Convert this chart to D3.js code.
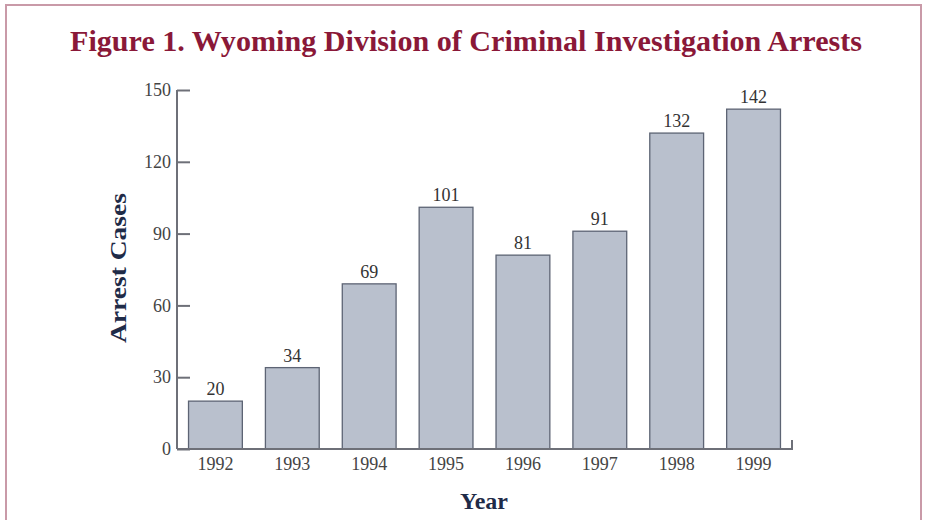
<!DOCTYPE html>
<html><head><meta charset="utf-8">
<script src="https://cdn.jsdelivr.net/npm/d3@7"></script>
<style>body{margin:0;background:#fff}svg{display:block}</style>
</head><body>
<svg id="c" width="927" height="520"></svg>
<script>
const years = ["1992","1993","1994","1995","1996","1997","1998","1999"];
const arrests = [20, 34, 69, 101, 81, 91, 132, 142];
const yTicks = [0, 30, 60, 90, 120, 150];
const titleText = "Figure 1. Wyoming Division of Criminal Investigation Arrests";

const svg = d3.select("#c");
const serif = "'Liberation Serif','DejaVu Serif',serif";

svg.append("rect").attr("x",6).attr("y",5).attr("width",915).attr("height",530)
  .attr("fill","none").attr("stroke","#c99aa8").attr("stroke-width",2);

svg.append("text").attr("x",466).attr("y",51).attr("text-anchor","middle")
  .attr("font-family",serif).attr("font-weight","bold").attr("font-size",29)
  .attr("fill","#8a1838").attr("textLength",792).attr("lengthAdjust","spacingAndGlyphs")
  .text(titleText);

const x = d3.scaleBand().domain(years).range([177, 792]).paddingInner(0.3).paddingOuter(0.15);
const y = d3.scaleLinear().domain([0,150]).range([449, 90]);
const axisColor = "#6e7078";

svg.selectAll("rect.bar").data(years).join("rect").attr("class","bar")
  .attr("x", d => x(d)).attr("y", (d,i) => y(arrests[i]))
  .attr("width", x.bandwidth()).attr("height", (d,i) => y(0) - y(arrests[i]))
  .attr("fill","#b9c0cd").attr("stroke","#5d6474").attr("stroke-width",1.3);

svg.selectAll("text.val").data(years).join("text").attr("class","val")
  .attr("x", d => x(d) + x.bandwidth()/2).attr("y", (d,i) => y(arrests[i]) - 6)
  .attr("text-anchor","middle").attr("font-family",serif).attr("font-size",18)
  .attr("fill","#333").text((d,i) => arrests[i]);

// y axis
const ya = svg.append("g").attr("transform","translate(177,0)")
  .call(d3.axisRight(y).tickValues(yTicks).tickSize(13).tickPadding(0));
ya.select(".domain").attr("stroke",axisColor).attr("stroke-width",2).attr("d","M0,90V449");
ya.selectAll(".tick line").attr("stroke",axisColor).attr("stroke-width",2);
ya.selectAll(".tick text").attr("x",-6).attr("text-anchor","end")
  .attr("font-family",serif).attr("font-size",18).attr("fill","#444");

// x axis
const xa = svg.append("g").attr("transform","translate(0,449)")
  .call(d3.axisBottom(x).tickSize(0).tickPadding(8));
xa.select(".domain").attr("stroke",axisColor).attr("stroke-width",2).attr("d","M177,0H792V-9");
xa.selectAll(".tick text").attr("font-family",serif).attr("font-size",18).attr("fill","#444");

svg.append("text").attr("x",484).attr("y",509).attr("text-anchor","middle")
  .attr("font-family",serif).attr("font-weight","bold").attr("font-size",24)
  .attr("fill","#1f2b48").text("Year");
svg.append("text").attr("transform","translate(126,268) rotate(-90)").attr("text-anchor","middle")
  .attr("font-family",serif).attr("font-weight","bold").attr("font-size",24)
  .attr("textLength",150).attr("lengthAdjust","spacingAndGlyphs")
  .attr("fill","#1f2b48").text("Arrest Cases");
</script>
</body></html>
